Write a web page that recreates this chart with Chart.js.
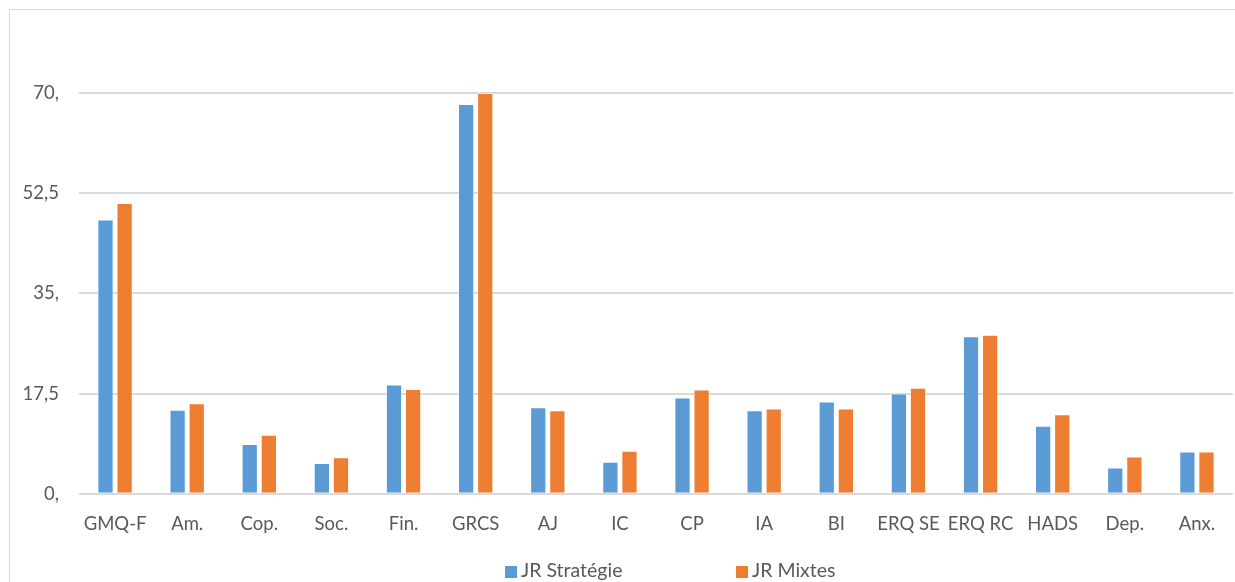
<!DOCTYPE html>
<html>
<head>
<meta charset="utf-8">
<script src="https://cdn.jsdelivr.net/npm/chart.js@4/dist/chart.umd.min.js"></script>
<style>
  html, body { margin: 0; padding: 0; background: #fff; overflow: hidden; }
  #wrap { position: relative; width: 1235px; height: 582px; }
  #chart { display: block; }
  #frame { position: absolute; left: 9px; top: 9px; width: 1240px; height: 600px; border: 1px solid #d9d9d9; box-sizing: border-box; }
  #legend { position: absolute; top: 558px; left: 0; width: 1235px; font: 19.5px Lato, sans-serif; color: #595959; }
  .item { position: absolute; top: 0; white-space: nowrap; }
  .box { display: inline-block; width: 12px; height: 12px; margin-right: 4px; vertical-align: -1px; }
</style>
</head>
<body>
<div id="wrap">
  <div id="frame"></div>
  <canvas id="chart" width="1235" height="582"></canvas>
  <div id="legend"></div>
</div>
<script>
Chart.defaults.color = '#595959'
Chart.defaults.font.family = 'Lato, sans-serif'

const categories = ['GMQ-F', 'Am.', 'Cop.', 'Soc.', 'Fin.', 'GRCS', 'AJ', 'IC', 'CP', 'IA', 'BI', 'ERQ SE', 'ERQ RC', 'HADS', 'Dep.', 'Anx.']
const strategie = [47.9, 14.7, 8.7, 5.4, 19.1, 68.1, 15.1, 5.6, 16.8, 14.6, 16.1, 17.5, 27.5, 11.9, 4.6, 7.4]
const mixtes = [50.8, 15.8, 10.3, 6.4, 18.3, 70.0, 14.6, 7.5, 18.2, 14.9, 14.9, 18.5, 27.8, 13.9, 6.5, 7.4]
const seriesNames = ['JR Stratégie', 'JR Mixtes']
const seriesColors = ['#5B9BD5', '#ED7D31']
const tickLabels = { 0: '0,', 17.5: '17,5', 35: '35,', 52.5: '52,5', 70: '70,' }

const data = {
    labels: categories,
    datasets: [strategie, mixtes].map((values, i) => ({
        label: seriesNames[i],
        data: values,
        backgroundColor: seriesColors[i],
        borderColor: 'rgba(255,255,255,0.5)',
        borderWidth: 1,
        categoryPercentage: 0.53,
        barPercentage: 0.85,
    }))
}

const options = {
    animation: false,
    responsive: false,
    layout: { padding: { top: 93, right: 2, bottom: 36, left: 0 } },
    plugins: {
        legend: { display: false },
        tooltip: { enabled: false }
    },
    scales: {
        x: {
            grid: { display: false },
            border: { display: false },
            ticks: { font: { size: 18.5 }, padding: 11, maxRotation: 0, autoSkip: false }
        },
        y: {
            min: 0,
            max: 70,
            afterFit: axis => { axis.width = 79 },
            grid: { color: '#d9d9d9', lineWidth: 2, drawTicks: false },
            border: { display: false },
            ticks: {
                stepSize: 17.5,
                padding: 20,
                font: { size: 18.5 },
                callback: v => tickLabels[v] ?? ''
            }
        }
    }
}

new Chart('chart', { type: 'bar', data, options })

// legende HTML
const legend = document.getElementById('legend')
const legendX = [505, 736]
seriesNames.forEach((name, i) => {
    const el = document.createElement('span')
    el.className = 'item'
    el.style.left = legendX[i] + 'px'
    el.innerHTML = '<span class="box" style="background:' + seriesColors[i] + '"></span>' + name
    legend.appendChild(el)
})
</script>
</body>
</html>
